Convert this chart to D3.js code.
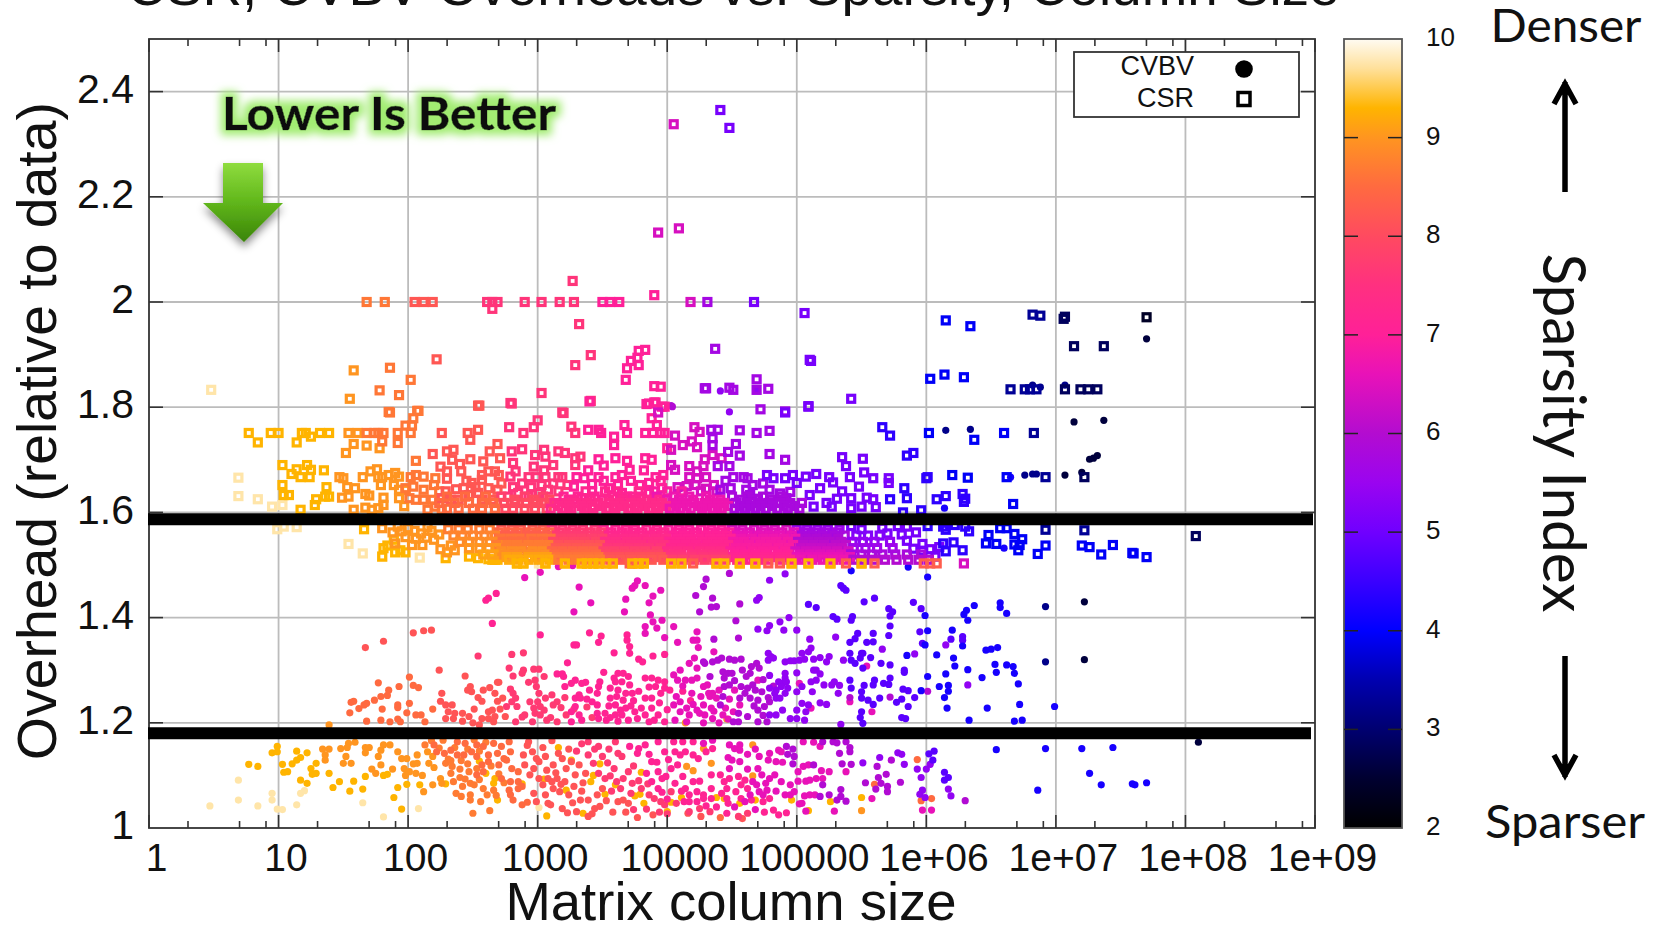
<!DOCTYPE html>
<html>
<head>
<meta charset="utf-8">
<script src="https://cdn.jsdelivr.net/npm/d3@7"></script>
<style>
  html, body { margin: 0; padding: 0; background: #fff; overflow: hidden; }
  text { font-family: "Liberation Sans", Arial, sans-serif; fill: #111; }
</style>
</head>
<body>
<div id="chart"></div>
<script>
// Axis ticks
const xTickValues = [1, 10, 100, 1000, 10000, 100000, 1e6, 1e7, 1e8, 1e9];
const xTickLabels = ['1', '10', '100', '1000', '10000', '100000', '1e+06', '1e+07', '1e+08', '1e+09'];
const xMinorSteps = [2, 5, 8];
const yTickValues = [1, 1.2, 1.4, 1.6, 1.8, 2, 2.2, 2.4];
const colorTickValues = [2, 3, 4, 5, 6, 7, 8, 9, 10];

// Overhead levels marked with the thick black lines
const markerLines = [1.587, 1.18];

// Sparsity index -> colour
const paletteIndex = [2, 2.5, 3, 3.5, 4, 4.5, 5, 5.5, 6, 6.6, 7, 7.5, 8, 8.5, 9, 9.3, 9.7, 10];
const paletteColor = ['#000000', '#000030', '#000070', '#0000b0', '#0000ff', '#3a00ff', '#7000ff', '#9a04f0', '#b30cd0', '#e812b8', '#ff2098', '#ff3080', '#ff4a60', '#ff6a40', '#ff9520', '#ffb400', '#ffe09a', '#fffbf2'];

// Points are [log10(column size), overhead], grouped as [sparsity index, points]
const cvbvGroups = [
  [9.75, [[.47,1.042],[.69,1.091],[.69,1.053],[.84,1.042],[.95,1.066],[.95,1.053],[.99,1.036],[1.03,1.035],[1.14,1.044],[1.17,1.066],[1.2,1.071],[1.65,1.048],[1.81,1.021],[2.08,1.037],[3.01,1.039]]],
  [9.3, [[.77,1.121],[.84,1.117],[1.03,1.121],[1.04,1.106],[1.07,1.107],[1.17,1.091],[1.22,1.085],[1.26,1.102],[1.29,1.104],[1.29,1.123],[1.105,1.122],[1.14,1.129],[1.17,1.134],[1.22,1.143],[1.14,1.146],[.95,1.143],[.99,1.155],[.99,1.145],[1.25,1.113],[1.39,1.104],[1.42,1.077],[1.47,1.088],[1.55,1.07],[1.65,1.074],[1.67,1.098],[1.58,1.089],[1.89,1.058],[1.95,1.036],[1.92,1.077],[1.99,1.083],[2.09,1.082],[1.81,1.1],[1.84,1.102],[2.29,1.084],[2.69,1.053],[3.07,1.023],[2.6,1.104],[2.55,1.127],[2.67,1.094],[2.66,1.085],[2.88,1.084],[3.05,1.093],[3.16,1.153],[3.22,1.072],[3.26,1.129],[3.35,1.028],[3.41,1.088],[3.43,1.1],[3.52,1.064],[3.48,1.122],[3.6,1.082],[3.75,1.061],[3.79,1.064],[3.82,1.047],[3.8,1.106],[4,1.031],[4.11,1.058],[4.03,1.049],[4.38,1.058],[4.44,1.056],[4.56,1.047],[4.68,1.053],[4.96,1.053],[5.26,1.05],[5.5,1.058],[5.09,1.033]]],
  [9, [[1.39,1.196],[1.34,1.15],[1.39,1.15],[1.36,1.139],[1.36,1.129],[1.48,1.151],[1.54,1.161],[1.53,1.153],[1.59,1.163],[1.52,1.136],[1.5,1.123],[1.56,1.123],[1.67,1.153],[1.7,1.153],[1.67,1.143],[1.79,1.148],[1.77,1.136],[1.81,1.158],[1.86,1.158],[1.92,1.145],[1.79,1.12],[1.72,1.112],[1.75,1.104],[1.88,1.112],[1.95,1.132],[1.99,1.132],[1.97,1.113],[2.01,1.107],[1.98,1.1],[2.06,1.104],[2.11,1.1],[2.04,1.122],[2.07,1.123],[2.07,1.139],[2.15,1.145],[2.19,1.136],[2.2,1.115],[2.16,1.123],[2.12,1.069],[2.19,1.082],[2.25,1.094],[2.26,1.085],[4.15,1.117],[4.2,1.109],[4.34,1.123],[4.66,1.099],[4.66,1.158],[4.28,1.151],[4.14,1.2],[4.46,1.207],[5.5,1.033]]],
  [8.7, [[2.29,1.123],[2.34,1.117],[2.33,1.104],[2.4,1.096],[2.4,1.112],[2.47,1.107],[2.53,1.113],[2.37,1.066],[2.42,1.079],[2.48,1.085],[2.51,1.082],[2.48,1.063],[2.48,1.053],[2.5,1.028],[2.61,1.063],[2.63,1.033],[2.24,1.152],[2.31,1.131],[2.36,1.153],[2.41,1.128],[2.46,1.15],[2.46,1.122],[2.55,1.146],[2.6,1.163],[2.64,1.118],[2.35,1.088],[2.44,1.093],[2.55,1.092],[2.58,1.075],[2.66,1.072],[2.7,1.103],[2.41,1.06],[2.56,1.05],[2.68,1.062],[2.74,1.086],[2.13,1.158],[2.18,1.166],[2.27,1.167],[2.33,1.128],[2.51,1.168]]],
  [8.5, [[1.56,1.239],[1.58,1.241],[1.62,1.227],[1.66,1.234],[1.68,1.237],[1.74,1.243],[1.79,1.25],[1.84,1.252],[1.85,1.262],[1.77,1.276],[1.93,1.269],[2.04,1.271],[2.08,1.267],[2.01,1.287],[1.55,1.219],[1.68,1.203],[1.8,1.226],[1.92,1.234],[1.92,1.229],[2.01,1.237],[1.99,1.219],[2.06,1.215],[2.1,1.215],[2.13,1.202],[2.19,1.226],[1.79,1.205],[1.86,1.202],[1.92,1.207],[1.94,1.202],[2.2,1.158],[2.22,1.145],[2.28,1.142],[2.33,1.148],[2.38,1.164],[2.38,1.139],[2.44,1.161],[2.43,1.139],[2.49,1.145],[2.53,1.158],[2.53,1.136],[2.58,1.155],[2.62,1.139],[2.66,1.161],[2.69,1.142],[2.72,1.155],[2.74,1.132],[2.78,1.164],[2.79,1.145],[2.57,1.12],[2.62,1.126],[2.7,1.12],[2.76,1.129],[2.8,1.113],[2.85,1.107],[2.53,1.101],[2.58,1.107],[2.72,1.094],[2.79,1.088],[2.85,1.088],[2.78,1.072],[2.79,1.063],[2.85,1.075],[2.88,1.079],[2.81,1.053],[2.88,1.044],[2.92,1.049],[4.41,1.02],[5.6,1.083],[5.93,1.13],[5.96,1.052],[6.04,1.056]]],
  [8.15, [[1.67,1.343],[1.81,1.355],[2.04,1.371],[2.12,1.375],[2.18,1.376],[2.24,1.3],[2.26,1.256],[2.25,1.241],[2.29,1.234],[2.34,1.234],[2.31,1.221],[2.36,1.218],[2.29,1.208],[2.35,1.208],[2.42,1.218],[2.44,1.289],[2.48,1.269],[2.46,1.262],[2.49,1.259],[2.58,1.262],[2.63,1.267],[2.69,1.277],[2.7,1.277],[2.67,1.256],[2.54,1.248],[2.57,1.241],[2.69,1.241],[2.51,1.226],[2.62,1.221],[2.65,1.224],[2.71,1.226],[2.57,1.208],[2.62,1.208],[2.67,1.212],[2.47,1.212],[2.66,1.202],[2.89,1.139],[2.93,1.164],[2.96,1.145],[2.99,1.132],[2.9,1.12],[2.97,1.113],[3.01,1.126],[3.07,1.11],[3.12,1.12],[3.19,1.132],[2.94,1.101],[3.01,1.094],[3.08,1.094],[3.15,1.094],[3.21,1.088],[2.97,1.066],[2.99,1.05],[3.06,1.063],[3.08,1.047],[3.12,1.075],[3.17,1.069],[3.24,1.063],[3.1,1.044],[3.19,1.037],[3.3,1.031],[3.33,1.053],[3.39,1.053],[3.44,1.037],[3.48,1.041],[3.39,1.022],[3.46,1.063],[3.5,1.075],[3.26,1.126],[3.32,1.12],[3.29,1.101],[3.37,1.104],[3.62,1.05],[3.66,1.053],[3.7,1.047],[3.77,1.02],[3.89,1.025],[4.58,1.018],[4.26,1.022],[4.16,1.028],[2.92,1.157],[3.04,1.153],[3.11,1.166],[3.16,1.142],[3.24,1.15],[3.06,1.136],[3.14,1.105],[3.22,1.113],[3.04,1.082],[3.11,1.088],[3.18,1.083],[3.28,1.079],[3.35,1.086],[3.27,1.048],[3.34,1.07],[3.23,1.029],[3.42,1.027],[3.53,1.052],[3.58,1.03],[3.68,1.03],[2.5,1.2],[2.55,1.196],[2.75,1.212],[2.42,1.203],[2.73,1.247]]],
  [7.7, [[2.54,1.327],[2.8,1.33],[2.89,1.333],[2.78,1.304],[2.89,1.3],[2.88,1.294],[2.81,1.289],[2.97,1.302],[3.01,1.302],[2.98,1.281],[2.93,1.277],[3.05,1.288],[2.79,1.264],[2.81,1.256],[2.83,1.247],[2.8,1.24],[2.84,1.231],[2.76,1.231],[2.99,1.269],[3.01,1.256],[3.06,1.247],[3.11,1.253],[3.15,1.24],[3.12,1.234],[3.21,1.248],[2.94,1.24],[3,1.24],[3.02,1.231],[2.97,1.228],[3.05,1.224],[2.9,1.215],[2.98,1.218],[3.02,1.215],[2.88,1.211],[2.83,1.202],[2.96,1.202],[3.07,1.205],[3.15,1.202],[3.39,1.164],[3.47,1.155],[3.39,1.139],[3.5,1.136],[3.47,1.104],[3.52,1.094],[3.59,1.113],[3.61,1.088],[3.6,1.164],[3.65,1.136],[3.7,1.107],[3.73,1.085],[3.8,1.075],[3.86,1.063],[3.95,1.05],[3.98,1.044],[4.03,1.069],[4.07,1.047],[4.17,1.031],[4.25,1.037],[4.33,1.031],[4.55,1.022],[4.62,1.028],[3.3,1.146],[3.34,1.16],[3.44,1.15],[3.55,1.15],[3.43,1.123],[3.54,1.124],[3.62,1.142],[3.56,1.099],[3.66,1.094],[3.74,1.118],[3.78,1.09],[3.57,1.07],[3.64,1.075],[3.72,1.066],[3.85,1.084],[3.9,1.056],[3.74,1.035],[3.84,1.036],[3.94,1.03],[4,1.027],[3.1,1.21],[3.22,1.215],[3.28,1.226],[3.18,1.229],[3.38,1.23],[3.42,1.21]]],
  [7.1, [[2.65,1.389],[3.02,1.367],[3.28,1.348],[3.3,1.348],[3.23,1.314],[3.15,1.293],[3.19,1.293],[3.2,1.288],[3.29,1.281],[3.26,1.275],[3.21,1.269],[3.37,1.277],[3.34,1.275],[3.32,1.253],[3.29,1.247],[3.33,1.247],[3.29,1.231],[3.26,1.221],[3.32,1.215],[3.26,1.202],[3.34,1.205],[3.51,1.296],[3.48,1.278],[3.47,1.269],[3.46,1.256],[3.42,1.24],[3.46,1.234],[3.46,1.218],[3.47,1.208],[3.52,1.218],[3.53,1.205],[3.56,1.247],[3.56,1.266],[3.59,1.285],[3.62,1.294],[3.66,1.294],[3.7,1.288],[3.6,1.278],[3.65,1.278],[3.71,1.272],[3.62,1.262],[3.68,1.256],[3.73,1.256],[3.61,1.25],[3.66,1.243],[3.6,1.234],[3.64,1.224],[3.68,1.228],[3.6,1.215],[3.65,1.215],[3.7,1.205],[3.62,1.203],[3.75,1.221],[3.77,1.208],[3.8,1.228],[3.83,1.215],[3.86,1.202],[3.88,1.228],[3.93,1.215],[3.98,1.202],[3.83,1.285],[3.88,1.285],[3.93,1.281],[3.98,1.278],[3.91,1.269],[3.95,1.256],[3.98,1.266],[3.88,1.247],[3.83,1.247],[3.4,1.371],[3.49,1.365],[3.47,1.353],[3.59,1.333],[3.69,1.367],[3.69,1.357],[3.71,1.345],[3.71,1.332],[3.78,1.321],[3.81,1.316],[3.89,1.327],[3.98,1.33],[2.6,1.433],[2.62,1.437],[2.68,1.446],[3.71,1.155],[3.83,1.158],[3.93,1.164],[3.77,1.142],[3.88,1.126],[3.84,1.104],[3.93,1.107],[3.88,1.088],[3.93,1.075],[3.96,1.094],[4.05,1.164],[4.12,1.164],[4.2,1.164],[4.06,1.145],[4.1,1.139],[4.14,1.145],[4.2,1.139],[4.03,1.113],[4.12,1.098],[4.2,1.088],[4.25,1.089],[4.14,1.075],[4.17,1.063],[4.23,1.069],[4.28,1.063],[4.17,1.05],[4.23,1.05],[4.28,1.056],[4.34,1.056],[4.46,1.028],[4.75,1.03],[4.82,1.034],[4.86,1.025],[4.92,1.029],[4.24,1.132],[4.3,1.145],[4.35,1.151],[4.34,1.101],[4.41,1.101],[4.44,1.088],[4.48,1.094],[4.55,1.098],[4.6,1.091],[4.34,1.075],[4.42,1.066],[4.46,1.075],[4.53,1.069],[4.57,1.082],[4.62,1.075],[4.46,1.056],[4.47,1.047],[4.57,1.056],[4.65,1.053],[4.74,1.05],[4.79,1.056],[3.78,1.151],[3.86,1.14],[3.98,1.145],[3.92,1.125],[4.01,1.13],[4.08,1.12],[3.99,1.098],[4.06,1.085],[3.96,1.068],[4.11,1.07],[4.0,1.055],[4.13,1.05],[4.3,1.042],[4.38,1.04],[3.56,1.21],[3.74,1.242],[3.78,1.26],[3.86,1.268],[3.94,1.238],[4.0,1.225],[4.02,1.262],[4.12,1.26],[4.18,1.242],[3.72,1.232],[3.9,1.205],[3.4,1.262],[3.38,1.245],[3.55,1.232]]],
  [6.6, [[2.9,1.476],[3.02,1.486],[3.32,1.458],[3.41,1.428],[3.68,1.435],[3.67,1.411],[3.28,1.411],[3.86,1.428],[3.89,1.441],[3.95,1.452],[3.83,1.461],[3.73,1.456],[3.75,1.461],[3.77,1.47],[3.87,1.405],[3.89,1.392],[3.96,1.395],[3.83,1.383],[3.83,1.37],[3.98,1.362],[3.92,1.38],[3.16,1.497],[3.27,1.499],[4.05,1.291],[4.08,1.281],[4.14,1.281],[4.19,1.281],[4.23,1.285],[4.1,1.3],[4.17,1.313],[4.23,1.304],[4.07,1.25],[4.05,1.234],[4.1,1.24],[4.15,1.228],[4.23,1.224],[4.28,1.234],[4.33,1.25],[4.38,1.247],[4.34,1.228],[4.29,1.215],[4.25,1.218],[4.17,1.215],[4.1,1.221],[4.06,1.205],[4.15,1.202],[4.35,1.208],[4.43,1.215],[4.51,1.221],[4.56,1.234],[4.24,1.343],[4.2,1.357],[4.23,1.357],[4.08,1.353],[4.05,1.383],[4.36,1.335],[4.23,1.373],[4.21,1.323],[4.28,1.269],[4.32,1.256],[4.35,1.256],[4.71,1.136],[4.78,1.129],[4.84,1.126],[4.89,1.125],[4.79,1.142],[4.86,1.148],[4.88,1.145],[4.47,1.134],[4.5,1.129],[4.56,1.126],[4.48,1.113],[4.48,1.158],[4.56,1.158],[4.56,1.148],[4.52,1.151],[4.28,1.161],[4.35,1.167],[4.66,1.088],[4.73,1.101],[4.79,1.094],[4.83,1.101],[4.88,1.088],[4.95,1.082],[4.69,1.082],[4.71,1.069],[4.77,1.072],[4.91,1.063],[4.95,1.063],[4.98,1.069],[4.64,1.063],[4.74,1.063],[5.04,1.047],[5.05,1.117],[5.09,1.12],[5.01,1.107],[5.15,1.094],[5.2,1.094],[5.07,1.089],[5.1,1.091],[5.01,1.089],[5.06,1.061],[5.1,1.063],[5.14,1.063],[5.07,1.032],[5.02,1.046],[5.05,1.164],[5.13,1.163],[5.18,1.155],[5.25,1.107],[5.38,1.107],[5.19,1.109],[5.58,1.056],[5.29,1.032],[5.97,1.034],[6.04,1.034],[5.41,1.24],[5.58,1.221],[5.54,1.308],[5.11,1.228],[5.02,1.275],[4.7,1.281],[4.12,1.27],[4.19,1.256],[4.26,1.25],[4.2,1.235],[4.31,1.272],[4.4,1.262],[4.48,1.245],[4.52,1.262],[4.36,1.222],[4.45,1.228],[4.28,1.2],[4.4,1.2],[4.47,1.207],[4.62,1.14],[4.68,1.15],[4.62,1.112],[4.7,1.113],[4.76,1.085],[4.6,1.05],[4.84,1.07],[4.52,1.04],[4.68,1.035]]],
  [5.95, [[4.3,1.473],[4.28,1.459],[4.22,1.442],[4.35,1.437],[4.34,1.42],[4.38,1.421],[4.25,1.411],[4.48,1.484],[4.56,1.426],[4.53,1.394],[4.36,1.359],[4.55,1.361],[4.35,1.316],[4.39,1.319],[4.42,1.323],[4.48,1.321],[4.52,1.319],[4.57,1.321],[4.29,1.313],[4.33,1.288],[4.28,1.316],[4.43,1.297],[4.47,1.294],[4.5,1.294],[4.44,1.285],[4.64,1.294],[4.69,1.313],[4.61,1.288],[4.71,1.304],[4.65,1.307],[4.44,1.269],[4.48,1.272],[4.57,1.269],[4.62,1.266],[4.66,1.272],[4.6,1.256],[4.56,1.247],[4.73,1.259],[4.43,1.25],[4.41,1.234],[4.64,1.247],[4.7,1.243],[4.75,1.231],[4.79,1.24],[4.7,1.224],[4.62,1.212],[4.55,1.202],[4.51,1.202],[4.7,1.202],[4.77,1.202],[4.97,1.122],[4.98,1.136],[4.92,1.155],[4.93,1.14],[4.97,1.15],[5.2,1.164],[5.28,1.164],[5.31,1.162],[5.13,1.12],[5.2,1.082],[5.18,1.06],[5.42,1.121],[5.35,1.122],[5.33,1.142],[5.41,1.153],[5.41,1.145],[5.38,1.164],[5.34,1.073],[5.34,1.06],[5.31,1.053],[5.38,1.051],[5.25,1.063],[5.53,1.086],[5.73,1.129],[5.62,1.117],[5.69,1.102],[5.63,1.096],[5.65,1.085],[5.61,1.074],[5.7,1.079],[5.7,1.069],[5.8,1.087],[6.3,1.052],[5.72,1.249],[6.01,1.26],[5.41,1.248],[4.03,1.803],[4.04,1.801],[4.52,1.28],[4.58,1.3],[4.74,1.282],[4.68,1.262],[4.78,1.248],[4.82,1.27],[4.55,1.218],[4.67,1.232],[4.74,1.214]]],
  [5.4, [[4.79,1.471],[4.91,1.483],[4.69,1.433],[4.71,1.438],[4.87,1.392],[4.94,1.4],[4.7,1.378],[4.77,1.375],[4.79,1.385],[4.9,1.376],[5,1.376],[4.91,1.316],[4.95,1.318],[4.98,1.318],[5.02,1.319],[5.06,1.321],[4.78,1.332],[4.8,1.326],[4.78,1.319],[4.82,1.323],[4.79,1.29],[4.91,1.294],[4.91,1.285],[4.89,1.275],[4.92,1.278],[4.86,1.278],[5,1.295],[5.13,1.3],[5.15,1.3],[5.18,1.293],[4.79,1.266],[4.84,1.262],[4.88,1.269],[4.83,1.256],[4.91,1.256],[4.93,1.266],[5,1.259],[5.04,1.269],[5.11,1.278],[5.15,1.281],[5.21,1.272],[5.27,1.272],[5.29,1.278],[5.33,1.271],[5.32,1.256],[5.12,1.259],[4.84,1.247],[4.87,1.247],[4.89,1.224],[4.84,1.215],[4.79,1.215],[5.04,1.237],[5,1.224],[5.09,1.234],[5.07,1.221],[5,1.208],[4.95,1.208],[5.06,1.205],[5.18,1.238],[5.23,1.235],[5.34,1.197],[5.04,1.332],[5.09,1.335],[5.11,1.342],[5.13,1.321],[5.18,1.324],[5.23,1.316],[5.25,1.326],[5.36,1.319],[6.03,1.121],[6,1.112],[5.93,1.112],[5.96,1.096],[5.97,1.072],[5.95,1.064],[5.99,1.058],[5.51,1.124],[5.64,1.134],[5.78,1.143],[5.81,1.14],[5.83,1.121],[6.17,1.074],[6.19,1.061],[5.91,1.331],[5.66,1.34],[6.15,1.348],[6.32,1.272],[5.1,1.359],[5.3,1.363],[4.69,1.833],[4.48,1.791],[4.41,1.831]]],
  [4.8, [[5.09,1.425],[5.15,1.419],[5.28,1.402],[5.31,1.397],[5.43,1.402],[5.42,1.395],[5.34,1.461],[5.36,1.456],[5.38,1.452],[5.52,1.43],[5.6,1.437],[5.71,1.417],[5.74,1.411],[5.72,1.403],[5.72,1.384],[5.71,1.366],[5.47,1.37],[5.45,1.36],[5.41,1.353],[5.54,1.353],[5.59,1.37],[5.59,1.354],[5.95,1.373],[5.97,1.351],[5.41,1.332],[5.42,1.319],[5.45,1.313],[5.5,1.332],[5.49,1.323],[5.51,1.332],[5.57,1.324],[5.65,1.313],[5.72,1.31],[5.51,1.304],[5.83,1.3],[5.83,1.296],[5.41,1.281],[5.42,1.266],[5.52,1.271],[5.5,1.259],[5.6,1.281],[5.59,1.272],[5.67,1.275],[5.72,1.285],[5.71,1.273],[5.82,1.264],[5.86,1.261],[5.5,1.247],[5.55,1.243],[5.59,1.235],[5.64,1.247],[5.77,1.239],[5.81,1.245],[5.91,1.248],[5.86,1.231],[5.5,1.221],[5.49,1.21],[5.51,1.199],[5.81,1.21],[5.84,1.208],[6.06,1.146],[6.02,1.141],[6.05,1.129],[6.14,1.106],[6.17,1.096],[6.14,1.091],[6.19,1.359],[6.28,1.364],[6.28,1.357],[5.96,1.417],[5.9,1.429]]],
  [4.2, [[5.99,1.404],[6.31,1.414],[6.29,1.406],[6.32,1.395],[6.37,1.423],[6.57,1.428],[6.57,1.419],[6.62,1.408],[6.01,1.477],[5.86,1.496],[5.42,1.489],[6.01,1.375],[6.2,1.376],[6.28,1.346],[5.99,1.348],[5.85,1.328],[6.08,1.329],[6.21,1.323],[6.22,1.308],[6.32,1.301],[6.15,1.293],[6.01,1.288],[6.46,1.338],[6.5,1.34],[6.55,1.343],[6.53,1.311],[6.54,1.296],[6.62,1.31],[6.67,1.307],[6.68,1.294],[6.71,1.274],[6.43,1.286],[6.72,1.235],[6.99,1.231],[6.47,1.228],[6.33,1.205],[6.68,1.203],[6.74,1.205],[6.16,1.228],[6.14,1.248],[6.1,1.269],[6.17,1.271],[6.17,1.26],[5.96,1.261],[6.54,1.149],[6.92,1.151],[7.2,1.151],[7.44,1.153],[7.26,1.104],[7.35,1.082],[7.59,1.084],[7.61,1.082],[7.7,1.086],[6.86,1.072],[6.14,1.608],[6.6,1.532],[6.65,1.667]]],
  [3.2, [[6.92,1.421],[6.92,1.316],[6.15,1.756],[6.34,1.758],[6.82,1.842],[6.88,1.838],[7.07,1.842],[6.76,1.671],[6.82,1.673],[6.85,1.673]]],
  [2.6, [[7.22,1.43],[7.22,1.32],[7.14,1.772],[7.37,1.775],[7.26,1.701],[7.29,1.703],[7.32,1.708],[7.07,1.671],[7.2,1.676],[8.1,1.163],[7.7,1.93]]]
];

const csrGroups = [
  [9.75, [[.69,1.666],[.69,1.631],[.84,1.625],[.95,1.611],[.99,1.568],[1.04,1.573],[1.54,1.54],[1.65,1.522],[1.8,1.516],[2.09,1.514],[1.03,1.614],[1.14,1.572],[.48,1.833],[3.01,1.503]]],
  [9.3, [[.77,1.751],[.84,1.733],[.94,1.751],[1,1.751],[1.14,1.733],[1.18,1.751],[1.21,1.751],[1.25,1.744],[1.32,1.751],[1.39,1.751],[1.03,1.69],[1.1,1.673],[1.14,1.682],[1.17,1.667],[1.22,1.69],[1.25,1.681],[1.24,1.667],[1.35,1.68],[1.03,1.652],[1.04,1.633],[1.08,1.633],[1.37,1.648],[1.39,1.63],[1.36,1.63],[1.29,1.625],[1.28,1.614],[1.17,1.605],[2.67,1.51],[2.65,1.51],[2.69,1.51],[1.81,1.532],[1.84,1.537],[1.89,1.548],[1.9,1.524],[1.8,1.516],[1.98,1.524],[1.94,1.528],[2.29,1.513],[2.47,1.516],[2.54,1.513],[2.62,1.511],[1.66,1.568],[2.84,1.503],[2.89,1.503],[3.06,1.503],[3.21,1.503],[3.34,1.503],[3.38,1.503],[3.43,1.503],[3.47,1.503],[3.53,1.503],[3.58,1.503],[3.73,1.503],[3.78,1.503],[3.82,1.503],[4.03,1.503],[4.11,1.503],[4.38,1.503],[4.44,1.503],[4.56,1.503],[4.68,1.503],[4.96,1.503],[5.09,1.503],[5.26,1.503],[5.5,1.503]]],
  [9, [[1.47,1.667],[1.5,1.665],[1.53,1.648],[1.59,1.646],[1.49,1.628],[1.54,1.63],[1.67,1.635],[1.7,1.632],[1.81,1.628],[1.58,1.605],[1.67,1.609],[1.72,1.605],[1.77,1.608],[1.81,1.614],[1.52,1.713],[1.58,1.73],[1.68,1.727],[1.78,1.722],[1.8,1.57],[1.88,1.562],[1.92,1.573],[1.95,1.564],[2.03,1.538],[2.11,1.538],[1.9,1.541],[1.65,1.667],[1.71,1.678],[1.76,1.682],[1.77,1.667],[1.8,1.667],[1.85,1.671],[1.9,1.675],[1.93,1.668],[1.79,1.652],[1.89,1.652],[1.93,1.643],[1.98,1.643],[1.93,1.627],[1.97,1.612],[1.54,1.751],[1.61,1.751],[1.58,1.87],[1.55,1.816],[2,1.57],[2.05,1.565],[2.1,1.56],[1.98,1.553],[2.06,1.55],[2.14,1.552],[2.18,1.565],[2.2,1.548],[2.24,1.558],[2.15,1.572],[2.25,1.53],[2.33,1.537],[2.36,1.528],[2.3,1.524]]],
  [8.65, [[1.68,1.751],[1.74,1.751],[1.77,1.751],[1.81,1.751],[1.8,1.735],[1.92,1.732],[1.92,1.751],[1.98,1.765],[2.02,1.751],[2.03,1.765],[2.04,1.779],[2.07,1.793],[1.85,1.791],[2.02,1.667],[2.06,1.671],[2.12,1.668],[2.21,1.665],[2.04,1.649],[2.12,1.643],[2.2,1.652],[2.01,1.627],[2.06,1.624],[2.12,1.624],[1.98,1.646],[2.24,1.64],[2.19,1.624],[2.21,1.611],[2.15,1.605],[2.26,1.605],[2.06,1.698],[1.86,1.875],[2.02,1.852],[1.78,1.832],[1.93,1.823],[1.86,1.79],[2.08,1.793],[1.68,2],[1.82,2]]],
  [8.2, [[2.19,1.711],[2.26,1.751],[2.25,1.687],[2.3,1.716],[2.35,1.719],[2.34,1.7],[2.4,1.692],[2.41,1.678],[2.3,1.678],[2.3,1.664],[2.48,1.701],[2.58,1.697],[2.63,1.716],[2.69,1.73],[2.71,1.703],[2.48,1.738],[2.46,1.751],[2.54,1.757],[2.57,1.671],[2.62,1.678],[2.67,1.678],[2.7,1.671],[2.57,1.662],[2.49,1.656],[2.37,1.644],[2.43,1.646],[2.29,1.64],[2.26,1.627],[2.33,1.624],[2.39,1.624],[2.47,1.633],[2.54,1.637],[2.62,1.646],[2.69,1.643],[2.57,1.624],[2.65,1.624],[2.05,2],[2.12,2],[2.19,2],[2.22,1.891],[2.55,1.803],[2.54,1.803],[2.45,1.66],[2.52,1.648],[2.72,1.655]]],
  [7.6, [[2.8,1.716],[2.88,1.72],[2.81,1.694],[2.98,1.709],[2.97,1.687],[3.05,1.719],[3.06,1.706],[2.79,1.668],[2.83,1.678],[2.93,1.667],[2.99,1.667],[3.06,1.667],[2.81,1.648],[3.03,1.652],[3.16,1.667],[3.19,1.667],[3.16,1.716],[3.21,1.713],[3.29,1.703],[3.33,1.706],[3.29,1.69],[2.77,1.63],[2.85,1.637],[2.93,1.63],[3.01,1.637],[3.08,1.643],[3.16,1.64],[2.78,1.762],[2.79,1.808],[2.89,1.751],[2.97,1.762],[3,1.775],[3.19,1.79],[3.26,1.763],[3.29,1.751],[2.8,1.807],[3.03,1.827],[3.2,1.789],[3.41,1.812],[2.61,2],[2.65,2],[2.69,2],[2.65,1.987],[2.9,2],[3.03,2],[3.17,2],[3.28,2],[3.27,2.04],[3.32,1.958],[3.41,1.899],[3.29,1.88],[2.88,1.655],[2.95,1.648],[3.12,1.655],[3.23,1.652],[3.05,1.68],[3.12,1.69]]],
  [7, [[3.3,1.667],[3.36,1.665],[3.47,1.667],[3.47,1.701],[3.51,1.689],[3.6,1.703],[3.69,1.698],[3.71,1.681],[3.6,1.667],[3.65,1.671],[3.28,1.649],[3.42,1.64],[3.55,1.646],[3.79,1.652],[3.91,1.667],[3.97,1.671],[3.83,1.703],[3.88,1.7],[4,1.722],[3.65,1.637],[3.34,1.627],[3.24,1.624],[3.5,1.624],[3.73,1.63],[3.86,1.637],[3.96,1.646],[3.39,1.757],[3.47,1.757],[3.49,1.751],[3.4,1.811],[3.67,1.766],[3.69,1.751],[3.59,1.744],[3.59,1.728],[3.83,1.751],[3.89,1.751],[3.95,1.751],[3.98,1.751],[3.88,1.779],[3.92,1.766],[3.96,1.801],[3.84,1.806],[3.91,1.809],[3.5,2],[3.56,2],[3.63,2],[3.68,1.852],[3.69,1.874],[3.78,1.88],[3.72,1.888],[3.78,1.907],[3.83,1.909],[3.77,1.894],[3.9,1.84],[3.95,1.839],[3.86,1.807],[3.9,1.809],[3.98,1.801],[3.9,2.013],[3.42,1.654],[3.51,1.66],[3.62,1.652],[3.72,1.66],[3.86,1.656],[3.95,1.66],[3.39,1.68],[3.82,1.68]]],
  [6.4, [[4.06,1.746],[4.03,1.719],[4.19,1.735],[4.23,1.724],[4.12,1.728],[4.25,1.753],[4.21,1.762],[4.35,1.709],[4.29,1.701],[4.42,1.703],[4.28,1.688],[4.17,1.688],[4.06,1.681],[4.03,1.69],[4.23,1.678],[4.3,1.667],[4.17,1.667],[4.23,1.665],[3.93,2.132],[4.09,2.14],[4.05,2.338],[4.18,2],[3.93,1.79],[4.15,1.65],[4.22,1.652],[4.3,1.645],[4.08,1.648],[4.36,1.652],[4.12,1.638],[4.26,1.64],[4.38,1.64]]],
  [5.7, [[4.35,1.741],[4.35,1.728],[4.34,1.757],[4.39,1.757],[4.53,1.73],[4.47,1.715],[4.48,1.688],[4.39,1.688],[4.91,1.7],[4.79,1.711],[4.56,1.708],[4.56,1.756],[4.69,1.751],[4.79,1.755],[4.72,1.796],[4.91,1.792],[4.51,1.667],[4.59,1.667],[4.62,1.665],[4.45,1.66],[4.49,1.646],[4.41,1.643],[4.61,1.643],[4.64,1.633],[4.7,1.626],[4.79,1.643],[4.87,1.636],[4.95,1.639],[4.92,1.627],[4.37,1.911],[4.31,2],[4.29,1.836],[4.3,1.836],[4.48,1.837],[4.51,1.833],[4.69,1.853],[4.69,1.833],[4.78,1.835],[4.66,1.652],[4.74,1.655]]],
  [5.1, [[5.09,1.801],[5,1.656],[4.97,1.671],[4.91,1.665],[4.82,1.665],[4.77,1.671],[5.07,1.668],[5.15,1.673],[5.25,1.667],[5.28,1.657],[5.18,1.646],[5.1,1.633],[5.35,1.64],[5.31,1.626],[5.23,1.618],[5.42,1.627],[5.54,1.628],[5.59,1.625],[5.42,1.608],[5.5,1.611],[5.61,1.61],[5.27,1.611],[5.13,1.611],[5.35,1.705],[5.38,1.688],[5.51,1.702],[5.52,1.676],[5.59,1.665],[5.41,1.667],[5.48,1.649],[5.71,1.665],[5.71,1.656],[4.41,2.365],[4.48,2.331],[4.67,2],[4.91,1.79],[5.06,1.979],[5.1,1.89],[5.11,1.888],[5.42,1.816],[5.09,1.802],[5.42,1.574],[5.5,1.568],[5.66,1.571],[5.7,1.56],[5.78,1.574],[5.85,1.573],[5.81,1.558],[5.92,1.562],[5.85,1.546],[5.97,1.54],[6.03,1.53],[6.1,1.534],[5.97,1.527],[5.9,1.531],[6.07,1.516]]],
  [4.4, [[5.66,1.762],[5.72,1.746],[6,1.665],[6.01,1.667],[5.9,1.713],[5.85,1.708],[5.83,1.646],[5.85,1.627],[5.72,1.625],[5.82,1.6],[5.96,1.604],[6.08,1.625],[6.15,1.631],[6.28,1.635],[6.3,1.626],[6.29,1.62],[6.33,1.564],[6.3,1.573],[6.13,1.573],[6.15,1.567],[6.22,1.576],[6.01,1.574],[6.13,1.541],[6.21,1.543],[6.15,1.526],[6.28,1.528]]],
  [3.95, [[6.02,1.751],[6.37,1.738],[6.6,1.751],[6.32,1.666],[6.2,1.671],[6.67,1.616],[6.62,1.667],[6.15,1.965],[6.34,1.954],[6.03,1.854],[6.14,1.862],[6.29,1.857],[6.48,1.557],[6.46,1.541],[6.54,1.54],[6.68,1.559],[6.74,1.549],[6.68,1.539],[6.72,1.538],[6.71,1.528],[6.57,1.57],[6.62,1.57],[7.2,1.537],[7.26,1.534],[7.35,1.52],[7.44,1.538],[7.59,1.523],[7.6,1.522],[7.7,1.515],[6.92,1.537],[6.86,1.521]]],
  [3.3, [[6.83,1.751],[6.82,1.976],[6.88,1.974],[6.65,1.834],[6.76,1.834],[6.8,1.834],[6.85,1.834],[6.92,1.667],[6.92,1.567],[7.22,1.566]]],
  [2.85, [[7.06,1.968],[7.07,1.972],[7.14,1.916],[7.37,1.916],[7.07,1.834],[7.19,1.834],[7.25,1.834],[7.32,1.834],[7.22,1.667],[8.08,1.555]]],
  [2.4, [[7.7,1.971]]]
];

// Densest part of the CSR cloud, one line per stretch of a row: [overhead, sparsity index, log10 sizes]
const csrDenseRows = [
  [1.64, 7.2, [3.37,3.52,3.62,3.78]], [1.64, 6.9, [3.9,4,4.11]],
  [1.63, 8.5, [2.3,2.44,2.6]], [1.63, 7.8, [2.72,2.9,3.04]], [1.63, 7.1, [3.2,3.31,3.44,3.58,3.69,3.8]], [1.63, 6.7, [3.92,4.05,4.17,4.3]], [1.63, 5.8, [4.5,4.62,4.74,4.88]],
  [1.624, 8, [2.82,2.97,3.09]], [1.624, 7.2, [3.28,3.41,3.55,3.66,3.76,3.84,3.94]], [1.624, 6.7, [4,4.09,4.2,4.33,4.41]], [1.624, 5.8, [4.57,4.66,4.8,4.9]],
  [1.618, 8.5, [2.24,2.36,2.47,2.58,2.66]], [1.618, 8, [2.74,2.83,2.91,2.99,3.06]], [1.618, 7.3, [3.13,3.22,3.3,3.38,3.47,3.55,3.63,3.72,3.8,3.88,3.96]], [1.618, 6.7, [4.04,4.12,4.21,4.29,4.37,4.44]], [1.618, 5.8, [4.53,4.61,4.7,4.78,4.87,4.95,5.04]],
  [1.612, 7.3, [3.16,3.24,3.34,3.42,3.5,3.59,3.67,3.75,3.83,3.91,3.99]], [1.612, 6.7, [4.07,4.15,4.24,4.31,4.39,4.47]], [1.612, 5.8, [4.56,4.64,4.72,4.81,4.9,4.98]],
  [1.607, 8.5, [2.3,2.39,2.5,2.57,2.67]], [1.607, 8, [2.75,2.81,2.9,2.98,3.07]], [1.607, 7.3, [3.1,3.19,3.26,3.36,3.43,3.53,3.6,3.7,3.77,3.86,3.93]], [1.607, 6.7, [4.02,4.1,4.18,4.27,4.35,4.42]], [1.607, 5.8, [4.52,4.6,4.68,4.76,4.85,4.93,5.02]],
  [1.568, 8.7, [2.31,2.39,2.46,2.55,2.63]], [1.568, 8.2, [2.72,2.8,2.87,2.96,3.04]], [1.568, 7.6, [3.11,3.19,3.27,3.35,3.44]], [1.568, 7.1, [3.51,3.6,3.68,3.75,3.84,3.92]], [1.568, 6.9, [4.01,4.09,4.17,4.26,4.34,4.42]], [1.568, 6.4, [4.5,4.58,4.67,4.75,4.83,4.92]], [1.568, 5.5, [5,5.08,5.16,5.24,5.33]],
  [1.562, 8.4, [2.7,2.78,2.85,2.94,3.02,3.09]], [1.562, 7.7, [3.17,3.25,3.33,3.41,3.49]], [1.562, 7.15, [3.57,3.65,3.73,3.81,3.9,3.98]], [1.562, 6.95, [4.07,4.15,4.23,4.32,4.4,4.48]], [1.562, 6.5, [4.56,4.64,4.73,4.81,4.89,4.98]], [1.562, 5.7, [5.06,5.14,5.22,5.31]],
  [1.556, 8.8, [2.35,2.42,2.5,2.59,2.67]], [1.556, 8.3, [2.75,2.83,2.92,2.99,3.08]], [1.556, 7.7, [3.15,3.23,3.31,3.39,3.47]], [1.556, 7.2, [3.55,3.63,3.71,3.79,3.88,3.96]], [1.556, 7, [4.05,4.13,4.21,4.3,4.38,4.46]], [1.556, 6.6, [4.54,4.62,4.71,4.79,4.87,4.96]], [1.556, 5.8, [5.04,5.12,5.2,5.29,5.37]], [1.556, 5.2, [5.46,5.55,5.64]],
  [1.55, 8.6, [2.71,2.79,2.86,2.95,3.03,3.1]], [1.55, 7.8, [3.18,3.26,3.34,3.42,3.5]], [1.55, 7.3, [3.58,3.66,3.74,3.82,3.91,3.99]], [1.55, 7.05, [4.08,4.16,4.24,4.33,4.41,4.49]], [1.55, 6.7, [4.57,4.65,4.74,4.82,4.9,4.99]], [1.55, 5.9, [5.07,5.15,5.23,5.32]],
  [1.544, 8.9, [2.4,2.47,2.55,2.63,2.69]], [1.544, 8.5, [2.73,2.81,2.88,2.97,3.05]], [1.544, 7.9, [3.12,3.2,3.28,3.36,3.45]], [1.544, 7.4, [3.52,3.6,3.69,3.76,3.85,3.93]], [1.544, 7.1, [4.02,4.1,4.18,4.27,4.35,4.43]], [1.544, 6.8, [4.51,4.59,4.68,4.76,4.84,4.93]], [1.544, 6, [5.01,5.09,5.17,5.25,5.34]], [1.544, 5.4, [5.43,5.51,5.6,5.72]],
  [1.538, 8.7, [2.68,2.77,2.84,2.93,3.01,3.09]], [1.538, 8.1, [3.16,3.24,3.32,3.4,3.48]], [1.538, 7.5, [3.56,3.64,3.72,3.8,3.89,3.97]], [1.538, 7.15, [4.06,4.14,4.22,4.31,4.39,4.47]], [1.538, 6.85, [4.55,4.63,4.72,4.8,4.88,4.97]], [1.538, 6.1, [5.05,5.13,5.21,5.3,5.38]],
  [1.532, 9, [2.47,2.55,2.62,2.68]], [1.532, 8.7, [2.76,2.84,2.91,3,3.08]], [1.532, 8.2, [3.14,3.22,3.3,3.38,3.46]], [1.532, 7.6, [3.54,3.62,3.7,3.78,3.86,3.95]], [1.532, 7.2, [4.03,4.11,4.2,4.28,4.36,4.44]], [1.532, 6.9, [4.53,4.61,4.69,4.77,4.86,4.94]], [1.532, 6.2, [5.03,5.11,5.19,5.27,5.35]], [1.532, 5.6, [5.44,5.53,5.62,5.74]],
  [1.526, 8.9, [2.72,2.8,2.87,2.96,3.04]], [1.526, 8.4, [3.11,3.19,3.27,3.35,3.43]], [1.526, 7.8, [3.51,3.59,3.67,3.75,3.83,3.92]], [1.526, 7.35, [4,4.08,4.16,4.25,4.33,4.41]], [1.526, 6.95, [4.49,4.57,4.66,4.74,4.82,4.91]], [1.526, 6.35, [4.99,5.07,5.15,5.23,5.31,5.4]],
  [1.52, 9.1, [2.58,2.65,2.7]], [1.52, 8.9, [2.74,2.82,2.89,2.98,3.06]], [1.52, 8.5, [3.13,3.21,3.29,3.37,3.45]], [1.52, 7.9, [3.53,3.61,3.69,3.77,3.85,3.93]], [1.52, 7.5, [4.02,4.1,4.19,4.27,4.35,4.43]], [1.52, 7, [4.52,4.6,4.68,4.76,4.85,4.93]], [1.52, 6.5, [5.02,5.1,5.18,5.26,5.34]], [1.52, 5.8, [5.42,5.5,5.58,5.66,5.76,5.85,5.96]],
  [1.515, 9.1, [2.76,2.84,2.93,3,3.07]], [1.515, 8.6, [3.15,3.23,3.31,3.39,3.47]], [1.515, 8.1, [3.55,3.63,3.71,3.79,3.87,3.95]], [1.515, 7.6, [4.03,4.11,4.19,4.28,4.36,4.44]], [1.515, 7.1, [4.51,4.59,4.67,4.75,4.84,4.92]], [1.515, 6.6, [5,5.08,5.16,5.24,5.32,5.41]],
  [1.51, 9.2, [2.78,2.85,2.93,3.01,3.09]], [1.51, 8.7, [3.16,3.24,3.32,3.4,3.48]], [1.51, 8.2, [3.56,3.64,3.72,3.8,3.88,3.97]], [1.51, 7.8, [4.04,4.12,4.21,4.29,4.37,4.45]], [1.51, 7.2, [4.54,4.62,4.7,4.78,4.87,4.95]], [1.51, 6.7, [5.03,5.12,5.2,5.28,5.36]], [1.51, 6, [5.44,5.52,5.6,5.68,5.77,5.86,5.94,6.02]],
  [1.503, 8.3, [3.71,4.2,4.78,4.87,5.38,5.6,5.98,6.03,6.08]], [1.503, 6.4, [6.29]]
];

// Orange and yellow squares along the lower edge go last, they sit on top of the band
const csrEdgeRow = [[9.3, [2.84,2.89,3.06,3.21,3.34,3.38,3.43,3.47,3.53,3.58,3.73,3.78,3.82,4.03,4.11,4.38,4.44,4.56,4.68,4.96,5.09,5.26,5.5]]];

const width = 1657, height = 926;
const plot = { left: 149, right: 1315, top: 39, bottom: 828 };
const bar = { left: 1344, right: 1402 };

const x = d3.scaleLog().domain([1, 1e9]).range([plot.left, plot.right]);
const y = d3.scaleLinear().domain([1, 2.5]).range([plot.bottom, plot.top]);
const barY = d3.scaleLinear().domain([2, 10]).range([plot.bottom, plot.top]);
const color = d3.scaleLinear().domain(paletteIndex).range(paletteColor).interpolate(d3.interpolateRgb).clamp(true);

const flatten = groups => groups.flatMap(([index, pts]) => pts.map(p => ({ size: Math.pow(10, p[0]), overhead: p[1], index })));
const cvbvPoints = flatten(cvbvGroups);
const csrPoints = flatten(csrGroups).concat(
  csrDenseRows.flatMap(([overhead, index, sizes]) => sizes.map(s => ({ size: Math.pow(10, s), overhead, index }))),
  csrEdgeRow.flatMap(([index, sizes]) => sizes.map(s => ({ size: Math.pow(10, s), overhead: 1.503, index })))
);

const svg = d3.select('#chart').append('svg').attr('width', width).attr('height', height)
  .style('display', 'block');

const defs = svg.append('defs');

const glow = defs.append('filter').attr('id', 'green-glow')
  .attr('x', '-10%').attr('y', '-40%').attr('width', '120%').attr('height', '180%');
glow.append('feMorphology').attr('in', 'SourceAlpha').attr('operator', 'dilate').attr('radius', 5).attr('result', 'wide');
glow.append('feGaussianBlur').attr('in', 'wide').attr('stdDeviation', 4).attr('result', 'soft');
glow.append('feFlood').attr('flood-color', '#a2ec72').attr('result', 'tint');
glow.append('feComposite').attr('in', 'tint').attr('in2', 'soft').attr('operator', 'in').attr('result', 'halo');
const glowMerge = glow.append('feMerge');
glowMerge.append('feMergeNode').attr('in', 'halo');
glowMerge.append('feMergeNode').attr('in', 'SourceGraphic');

const arrowFill = defs.append('linearGradient').attr('id', 'arrow-fill').attr('x1', 0).attr('x2', 0).attr('y1', 0).attr('y2', 1);
arrowFill.append('stop').attr('offset', '0%').attr('stop-color', '#8fdc3e');
arrowFill.append('stop').attr('offset', '48%').attr('stop-color', '#62b81c');
arrowFill.append('stop').attr('offset', '100%').attr('stop-color', '#3a8406');

const arrowShadow = defs.append('filter').attr('id', 'arrow-shadow')
  .attr('x', '-30%').attr('y', '-20%').attr('width', '160%').attr('height', '150%');
arrowShadow.append('feDropShadow').attr('dx', 0).attr('dy', 5).attr('stdDeviation', 4).attr('flood-color', '#000').attr('flood-opacity', 0.45);

const barFill = defs.append('linearGradient').attr('id', 'bar-fill').attr('x1', 0).attr('x2', 0).attr('y1', 1).attr('y2', 0);
paletteIndex.forEach((v, i) => {
  barFill.append('stop').attr('offset', (v - 2) / 8).attr('stop-color', paletteColor[i]);
});

// Grid
const gridColor = '#bcbcbc';
svg.append('g').attr('class', 'grid-x')
  .selectAll('line').data(xTickValues.slice(1, -1)).join('line')
  .attr('x1', d => x(d)).attr('x2', d => x(d)).attr('y1', plot.top).attr('y2', plot.bottom)
  .attr('stroke', gridColor).attr('stroke-width', 1.8);
svg.append('g').attr('class', 'grid-y')
  .selectAll('line').data(yTickValues.slice(1)).join('line')
  .attr('x1', plot.left).attr('x2', plot.right).attr('y1', d => y(d)).attr('y2', d => y(d))
  .attr('stroke', gridColor).attr('stroke-width', 1.8);

// Points
svg.append('g').attr('class', 'cvbv')
  .selectAll('circle').data(cvbvPoints).join('circle')
  .attr('cx', d => x(d.size)).attr('cy', d => y(d.overhead)).attr('r', 3.6)
  .attr('fill', d => color(d.index));

const squareSide = 7;
svg.append('g').attr('class', 'csr')
  .selectAll('rect').data(csrPoints).join('rect')
  .attr('x', d => x(d.size) - squareSide / 2).attr('y', d => y(d.overhead) - squareSide / 2)
  .attr('width', squareSide).attr('height', squareSide)
  .attr('fill', 'none').attr('stroke-width', 3.2)
  .attr('stroke', d => color(d.index));

// Tick marks and frame
const minorTicks = xTickValues.slice(0, -1).flatMap(d => xMinorSteps.map(m => d * m));
const inkColor = '#333';
const ticks = svg.append('g').attr('class', 'ticks').attr('stroke', inkColor).attr('stroke-width', 1.6);
[[plot.bottom, -1], [plot.top, 1]].forEach(([base, dir]) => {
  ticks.append('g').selectAll('line').data(xTickValues).join('line')
    .attr('x1', d => x(d)).attr('x2', d => x(d)).attr('y1', base).attr('y2', base + dir * 13);
  ticks.append('g').selectAll('line').data(minorTicks).join('line')
    .attr('x1', d => x(d)).attr('x2', d => x(d)).attr('y1', base).attr('y2', base + dir * 7);
});
[[plot.left, 1], [plot.right, -1]].forEach(([base, dir]) => {
  ticks.append('g').selectAll('line').data(yTickValues.slice(1)).join('line')
    .attr('x1', base).attr('x2', base + dir * 14).attr('y1', d => y(d)).attr('y2', d => y(d));
});
svg.append('rect').attr('x', plot.left).attr('y', plot.top)
  .attr('width', plot.right - plot.left).attr('height', plot.bottom - plot.top)
  .attr('fill', 'none').attr('stroke', inkColor).attr('stroke-width', 1.8);

// Axis labels, through d3 axes with the rule hidden
const xAxis = d3.axisBottom(x).tickValues(xTickValues).tickFormat((d, i) => xTickLabels[i]).tickSize(0);
const xAxisG = svg.append('g').attr('transform', `translate(7,${plot.bottom})`).call(xAxis);
xAxisG.select('.domain').remove();
xAxisG.selectAll('text').attr('font-size', 39).attr('y', 0).attr('dy', 43);

const yAxis = d3.axisLeft(y).tickValues(yTickValues).tickFormat(d3.format('~g')).tickSize(0);
const yAxisG = svg.append('g').attr('transform', `translate(${plot.left - 15},-4)`).call(yAxis);
yAxisG.select('.domain').remove();
yAxisG.selectAll('text').attr('font-size', 41).attr('x', 0).attr('dy', '0.36em');

svg.append('text').attr('x', 731).attr('y', 920).attr('text-anchor', 'middle')
  .attr('font-size', 54.5).text('Matrix column size');
svg.append('text').attr('transform', 'translate(56,431) rotate(-90)').attr('text-anchor', 'middle')
  .attr('font-size', 55.3).text('Overhead (relative to data)');
svg.append('text').attr('x', 733).attr('y', 5).attr('text-anchor', 'middle')
  .attr('font-size', 54).attr('textLength', 1213).attr('lengthAdjust', 'spacingAndGlyphs')
  .text('CSR, CVBV Overheads vs. Sparsity, Column Size');

// Legend
const legend = svg.append('g').attr('class', 'legend');
legend.append('rect').attr('x', 1074).attr('y', 52).attr('width', 225).attr('height', 65)
  .attr('fill', '#fff').attr('stroke', '#333').attr('stroke-width', 1.8);
legend.append('text').attr('x', 1194).attr('y', 75).attr('text-anchor', 'end').attr('font-size', 27).text('CVBV');
legend.append('text').attr('x', 1194).attr('y', 107).attr('text-anchor', 'end').attr('font-size', 27).text('CSR');
legend.append('circle').attr('cx', 1244).attr('cy', 69).attr('r', 8.8).attr('fill', '#000');
legend.append('rect').attr('x', 1238).attr('y', 92.5).attr('width', 12).attr('height', 13)
  .attr('fill', 'none').attr('stroke', '#000').attr('stroke-width', 3.5);

// Colour bar
svg.append('rect').attr('x', bar.left).attr('y', plot.top)
  .attr('width', bar.right - bar.left).attr('height', plot.bottom - plot.top)
  .attr('fill', 'url(#bar-fill)').attr('stroke', '#555').attr('stroke-width', 1.8);
const barTicks = svg.append('g').attr('stroke', '#222').attr('stroke-width', 1.5);
colorTickValues.slice(1, -1).forEach(v => {
  barTicks.append('line').attr('x1', bar.left).attr('x2', bar.left + 14).attr('y1', barY(v)).attr('y2', barY(v));
  barTicks.append('line').attr('x1', bar.right - 14).attr('x2', bar.right).attr('y1', barY(v)).attr('y2', barY(v));
});
const barAxis = d3.axisRight(barY).tickValues(colorTickValues).tickFormat(d3.format('d')).tickSize(0);
const barAxisG = svg.append('g').attr('transform', `translate(1426,-3)`).call(barAxis);
barAxisG.select('.domain').remove();
barAxisG.selectAll('text').attr('font-size', 26).attr('x', 0).attr('dy', '0.36em');

// Thick marker lines, drawn over the points
svg.append('g').attr('class', 'markers')
  .selectAll('line').data(markerLines).join('line')
  .attr('x1', 148).attr('x2', (d, i) => i ? 1311 : 1313)
  .attr('y1', d => y(d)).attr('y2', d => y(d))
  .attr('stroke', '#000').attr('stroke-width', 12);

// Callouts
const sideFont = 'Lato, "Noto Sans", sans-serif';
const callout = svg.append('g');
callout.append('text').attr('x', 222).attr('y', 130)
  .attr('font-size', 45).attr('font-weight', 700).attr('textLength', 334).attr('lengthAdjust', 'spacingAndGlyphs')
  .attr('filter', 'url(#green-glow)').attr('stroke', '#111').attr('stroke-width', 0.5)
  .style('font-family', sideFont).text('Lower Is Better');
callout.append('path')
  .attr('d', 'M223,163 H263 V203 H283 L244,242 L203,203 H223 Z')
  .attr('fill', 'url(#arrow-fill)').attr('filter', 'url(#arrow-shadow)');

svg.append('text').attr('x', 1566).attr('y', 42).attr('text-anchor', 'middle')
  .attr('font-size', 46).attr('textLength', 151).attr('lengthAdjust', 'spacingAndGlyphs')
  .style('font-family', sideFont).text('Denser');
svg.append('text').attr('x', 1565).attr('y', 838).attr('text-anchor', 'middle')
  .attr('font-size', 46).attr('textLength', 160).attr('lengthAdjust', 'spacingAndGlyphs')
  .style('font-family', sideFont).text('Sparser');
svg.append('text').attr('transform', 'translate(1543,433) rotate(90)').attr('text-anchor', 'middle')
  .attr('font-size', 60).attr('textLength', 359).attr('lengthAdjust', 'spacingAndGlyphs')
  .style('font-family', sideFont).text('Sparsity Index');

const sideArrows = svg.append('g').attr('fill', 'none').attr('stroke', '#000').attr('stroke-width', 5.5);
sideArrows.append('path').attr('d', 'M1565,192 V82 M1554,104 L1565,84 L1576,104');
sideArrows.append('path').attr('d', 'M1565,656 V777 M1554,755 L1565,775 L1576,755');
</script>
</body>
</html>
